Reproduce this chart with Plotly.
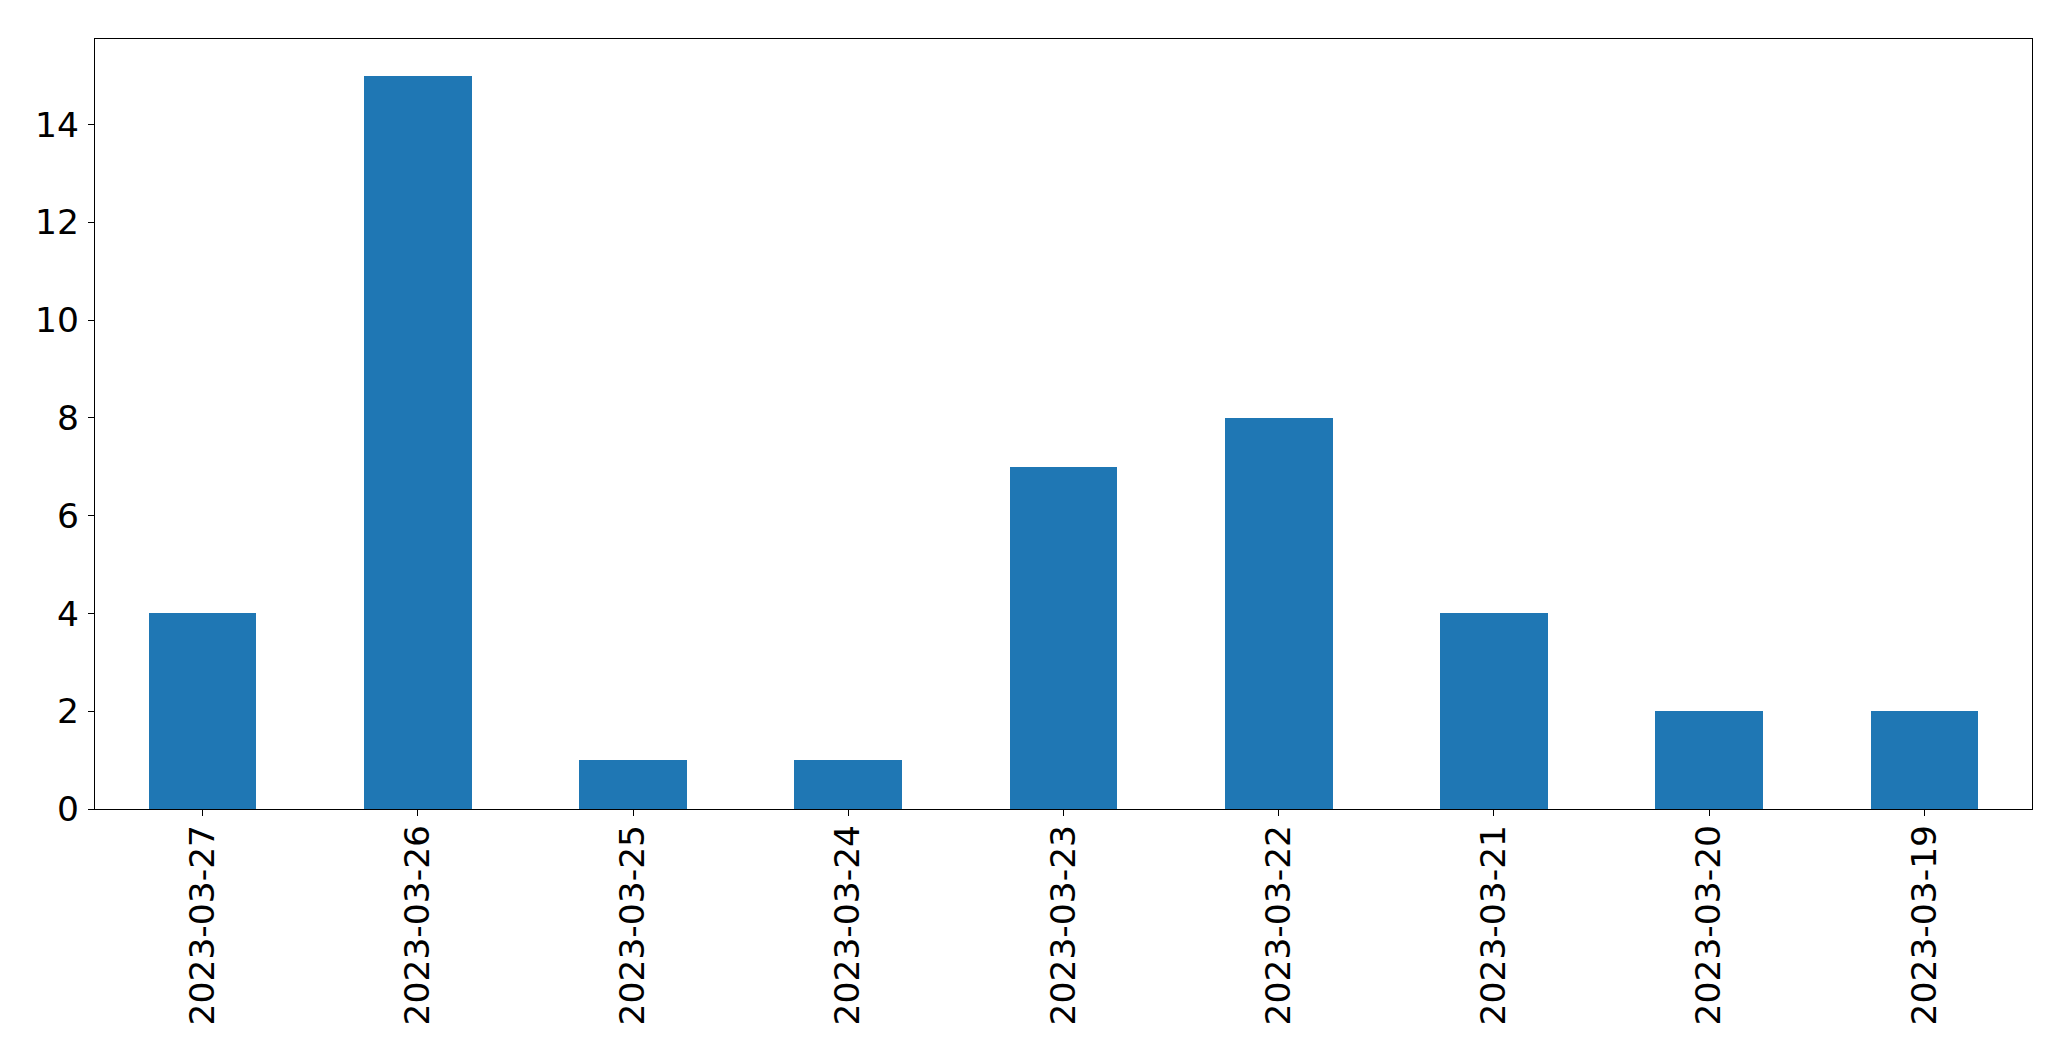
import plotly.graph_objects as go

dates = ["2023-03-27", "2023-03-26", "2023-03-25", "2023-03-24", "2023-03-23",
         "2023-03-22", "2023-03-21", "2023-03-20", "2023-03-19"]
counts = [4, 15, 1, 1, 7, 8, 4, 2, 2]
y_ticks = [0, 2, 4, 6, 8, 10, 12, 14]

fig = go.Figure(go.Bar(x=dates, y=counts, width=0.5, marker=dict(color="#1f77b4", line=dict(width=0))))

fig.update_layout(
    width=2063, height=1053,
    margin=dict(l=87, r=39, t=31, b=252, autoexpand=False),
    paper_bgcolor="white", plot_bgcolor="white",
    font=dict(family="DejaVu Sans", size=34.5, color="black"),
    showlegend=False,
    bargap=0,
)
fig.update_xaxes(
    type="category", range=[-0.5, len(dates) - 0.5],
    tickangle=-90, ticks="outside", ticklen=6, tickwidth=1.3, tickcolor="black",
    showline=True, linecolor="black", linewidth=1.3, mirror=True,
    showgrid=False, zeroline=False, ticklabelstandoff=-5,
)
fig.update_yaxes(
    range=[0, 15.75], tickvals=y_ticks,
    ticks="outside", ticklen=6, tickwidth=1.3, tickcolor="black",
    showline=True, linecolor="black", linewidth=1.3, mirror=True,
    showgrid=False, zeroline=False, ticklabelstandoff=2,
)

fig.write_html("out.html")
